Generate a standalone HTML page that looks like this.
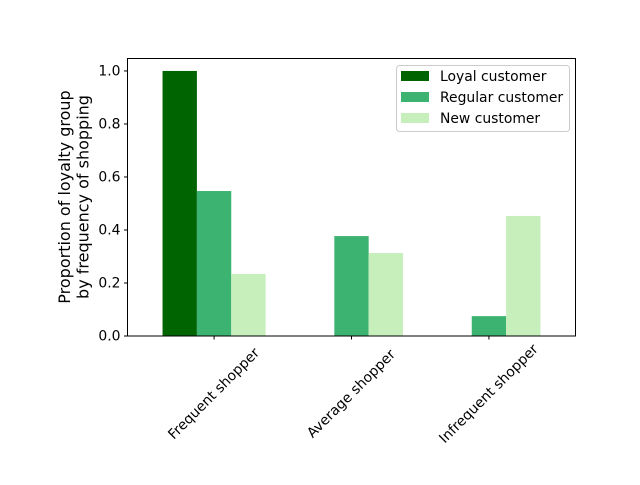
<!DOCTYPE html>
<html><head><meta charset="utf-8"><style>
body{margin:0;background:#fff}
text{font-family:"DejaVu Sans","Liberation Sans",sans-serif;fill:#000}
</style></head><body>
<svg id="chart" width="640" height="480" viewBox="0 0 640 480" xmlns="http://www.w3.org/2000/svg">
<rect width="640" height="480" fill="#fff"/>
<g id="bars"></g>
<g id="yticks"></g>
<g id="xticks"></g>
<rect x="127.5" y="58.5" width="448" height="277.5" fill="none" stroke="#000" stroke-width="1"/>
<text transform="translate(70,197) rotate(-90)" text-anchor="middle" font-size="16"><tspan x="0" dy="0">Proportion of loyalty group</tspan><tspan x="0" dy="18.5">by frequency of shopping</tspan></text>
<g id="legend">
<rect x="396.5" y="65.5" width="173" height="66" rx="3" fill="#fff" fill-opacity="0.8" stroke="#ccc"/>
</g>
</svg>
<script>
const categories=["Frequent shopper","Average shopper","Infrequent shopper"];
const seriesNames=["Loyal customer","Regular customer","New customer"];
const loyal=[1.0,0,0];
const regular=[0.547,0.377,0.075];
const newer=[0.234,0.313,0.453];
const yTicks=[0,0.2,0.4,0.6,0.8,1.0];
const series=[loyal,regular,newer];
const colors=["#006400","#3cb371","#c6efbb"];
const NS="http://www.w3.org/2000/svg";
const x0=127.5,x1=575.5,y0=336,y1=58.5;
const xmin=-0.63,xmax=2.63,ymin=0,ymax=1.047;
const xs=v=>x0+(v-xmin)/(xmax-xmin)*(x1-x0);
const ys=v=>y0-(v-ymin)/(ymax-ymin)*(y0-y1);
function mk(t,a,p){const e=document.createElementNS(NS,t);for(const k in a)e.setAttribute(k,a[k]);p.appendChild(e);return e;}
const bw=0.25;
const gb=document.getElementById('bars');
series.forEach((s,si)=>{s.forEach((v,ci)=>{
 const c=ci+(si-1)*bw;
 const r=mk('rect',{x:xs(c-bw/2),y:ys(v),width:xs(c+bw/2)-xs(c-bw/2),height:ys(0)-ys(v),fill:colors[si]},gb);
 
 
});});
const gy=document.getElementById('yticks');
yTicks.forEach(t=>{const y=ys(t);
 mk('line',{x1:x0,x2:x0-3.5,y1:y,y2:y,stroke:'#000'},gy);
 const tx=mk('text',{x:x0-7,y:y+4.5,'text-anchor':'end','font-size':'13.9'},gy);tx.textContent=t.toFixed(1);
 
 
});
const gx=document.getElementById('xticks');
categories.forEach((c,i)=>{const x=xs(i);
 mk('line',{x1:x,x2:x,y1:y0,y2:y0+3.5,stroke:'#000'},gx);
 const tx=mk('text',{transform:`translate(${x},${y0+58}) rotate(-45)`,'text-anchor':'middle','dominant-baseline':'central','font-size':'13.9'},gx);tx.textContent=c;
 
 
});
const gl=document.getElementById('legend');
seriesNames.forEach((n,i)=>{const y=76+i*21;
 const r=mk('rect',{x:401,y:y-5,width:28,height:10,fill:colors[i]},gl);
 
 
 const t=mk('text',{x:440,y:y+5,'font-size':'13.9'},gl);t.textContent=n;
 
 
});
</script>
</body></html>
